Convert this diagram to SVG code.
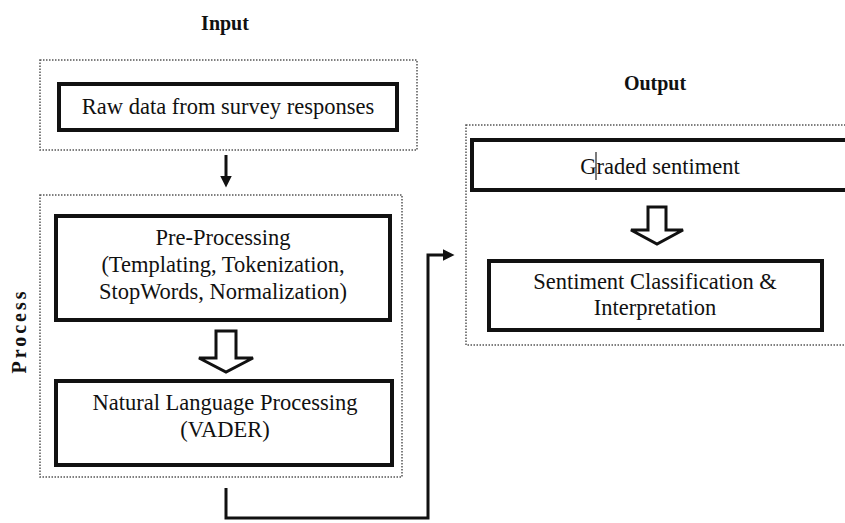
<svg xmlns="http://www.w3.org/2000/svg" width="845" height="523" viewBox="0 0 845 523">
  <defs>
    <marker id="tip" markerWidth="4" markerHeight="4" refX="2.5" refY="2" orient="auto" markerUnits="strokeWidth">
      <path d="M0,0 L4,2 L0,4 Z" fill="#111"/>
    </marker>
  </defs>

  <rect width="845" height="523" fill="#fff"/>

  <!-- section headings -->
  <g font-family="Liberation Serif, Times New Roman, serif" font-size="20" font-weight="bold" fill="#111" text-anchor="middle">
    <text x="225" y="30">Input</text>
    <text x="655" y="90">Output</text>
    <text letter-spacing="3" transform="translate(26,331) rotate(-90)">Process</text>
  </g>

  <!-- dotted group frames -->
  <g fill="none" stroke="#555" stroke-width="1.5" stroke-dasharray="1.5 1.5">
    <rect x="40" y="60" width="377" height="90"/>
    <rect x="40" y="195" width="362" height="282"/>
    <rect x="466" y="125" width="385" height="220"/>
  </g>

  <!-- process nodes: heavy-bordered boxes -->
  <g fill="#fff" stroke="#111" stroke-width="4">
    <rect id="raw-data-box" x="59" y="84" width="338" height="46"/>
    <rect id="pre-processing-box" x="56" y="216" width="334" height="104"/>
    <rect id="nlp-box" x="56" y="381" width="336" height="84"/>
    <rect id="graded-sentiment-box" x="472" y="140" width="380" height="50"/>
    <rect id="classification-box" x="489" y="261" width="333" height="69"/>
  </g>

  <g id="raw-data">
    <text x="228" y="114" font-family="Liberation Serif, Times New Roman, serif" font-size="22.5" fill="#111" text-anchor="middle">Raw data from survey responses</text>
  </g>

  <g id="pre-processing" font-family="Liberation Serif, Times New Roman, serif" font-size="22.5" fill="#111" text-anchor="middle">
    <text x="223" y="245">Pre-Processing</text>
    <text x="223" y="272">(Templating, Tokenization,</text>
    <text x="223" y="299">StopWords, Normalization)</text>
  </g>

  <g id="nlp" font-family="Liberation Serif, Times New Roman, serif" font-size="22.5" fill="#111" text-anchor="middle">
    <text x="225" y="410">Natural Language Processing</text>
    <text x="225" y="437">(VADER)</text>
  </g>

  <g id="graded-sentiment">
    <text x="660" y="174" font-family="Liberation Serif, Times New Roman, serif" font-size="22.5" fill="#111" text-anchor="middle">Graded sentiment</text>
    <line x1="596" y1="152" x2="596" y2="180" stroke="#222" stroke-width="1.2"/>
  </g>

  <g id="classification" font-family="Liberation Serif, Times New Roman, serif" font-size="22.5" fill="#111" text-anchor="middle">
    <text x="655" y="289">Sentiment Classification &amp;</text>
    <text x="655" y="315">Interpretation</text>
  </g>

  <g id="connectors" stroke="#111" stroke-width="3">
    <line x1="226" y1="155" x2="226" y2="183" marker-end="url(#tip)"/>
    <path fill="#fff" d="M216,331 H236 V358 H253 L226,372 L199,358 H216 Z"/>
    <path fill="#fff" d="M648,207 H666 V230 H683 L657,244 L631,230 H648 Z"/>
    <polyline fill="none" points="226,488 226,518 428,518 428,255 450,255" marker-end="url(#tip)"/>
  </g>
</svg>
